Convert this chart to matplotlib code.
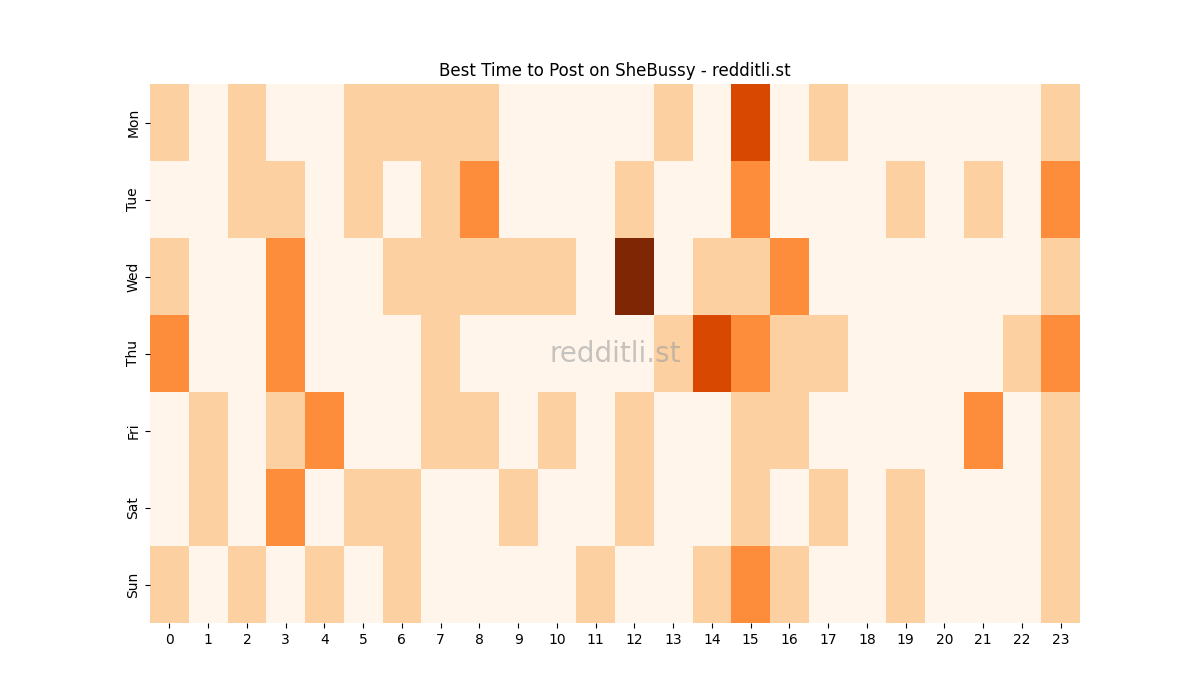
import matplotlib
matplotlib.use("Agg")
import matplotlib.pyplot as plt
import numpy as np

days = ["Mon", "Tue", "Wed", "Thu", "Fri", "Sat", "Sun"]
hours = list(range(24))
mon = [1,0,1,0,0,1,1,1,1,0,0,0,0,1,0,3,0,1,0,0,0,0,0,1]
tue = [0,0,1,1,0,1,0,1,2,0,0,0,1,0,0,2,0,0,0,1,0,1,0,2]
wed = [1,0,0,2,0,0,1,1,1,1,1,0,4,0,1,1,2,0,0,0,0,0,0,1]
thu = [2,0,0,2,0,0,0,1,0,0,0,0,0,1,3,2,1,1,0,0,0,0,1,2]
fri = [0,1,0,1,2,0,0,1,1,0,1,0,1,0,0,1,1,0,0,0,0,2,0,1]
sat = [0,1,0,2,0,1,1,0,0,1,0,0,1,0,0,1,0,1,0,1,0,0,0,1]
sun = [1,0,1,0,1,0,1,0,0,0,0,1,0,0,1,2,1,0,0,1,0,0,0,1]
data = np.array([mon, tue, wed, thu, fri, sat, sun])

fig, ax = plt.subplots(figsize=(12, 7), dpi=100)
ax.pcolormesh(data, cmap="Oranges", vmin=0, vmax=4)
ax.set_xlim(0, 24)
ax.set_ylim(7, 0)
ax.set_xticks(np.arange(24) + 0.5)
ax.set_xticklabels([str(h) for h in hours])
ax.set_yticks(np.arange(7) + 0.5)
ax.set_yticklabels(days, rotation=90, va="center")
for s in ax.spines.values():
    s.set_visible(False)
ax.set_title("Best Time to Post on SheBussy - redditli.st")
ax.text(12, 3.5, "redditli.st", ha="center", va="center", fontsize=20, color="#a0a0a0", alpha=0.6)
fig.savefig("out.png")
